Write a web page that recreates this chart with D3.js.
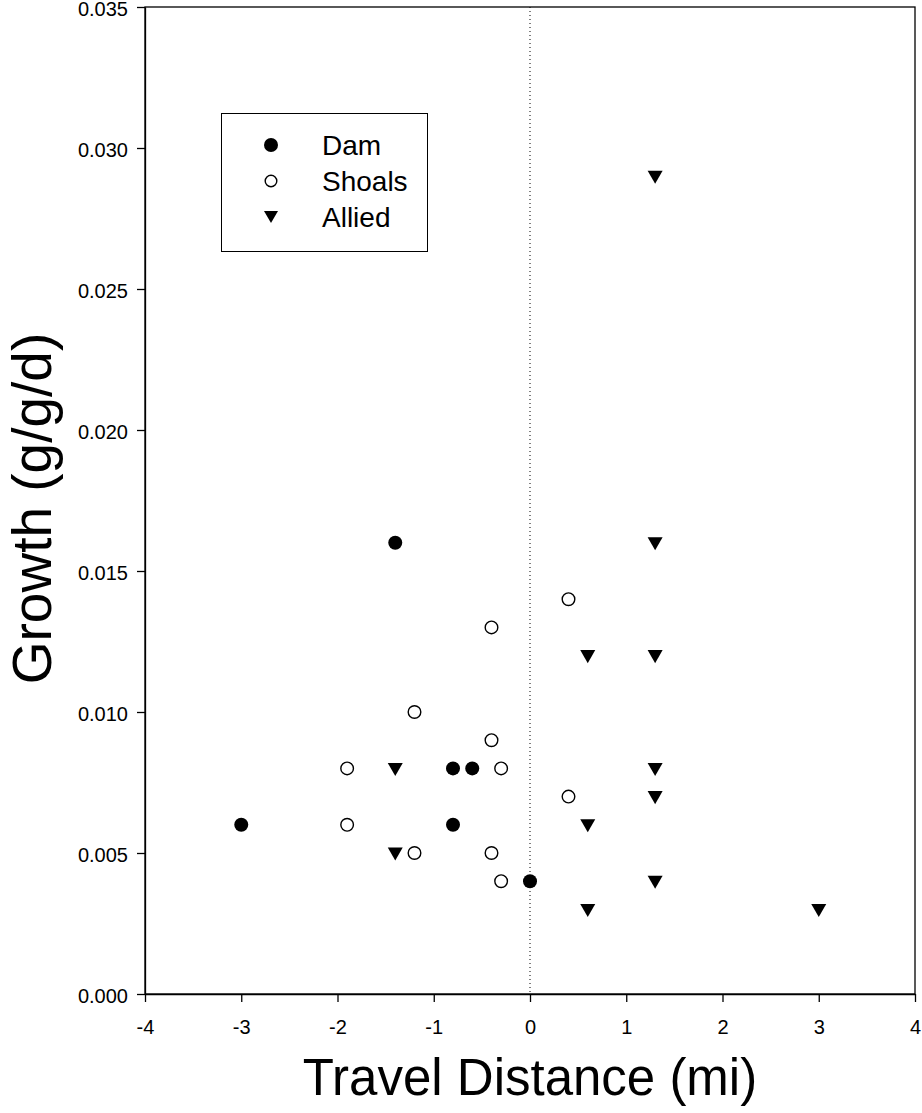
<!DOCTYPE html>
<html>
<head>
<meta charset="utf-8">
<script src="https://cdn.jsdelivr.net/npm/d3@7/dist/d3.min.js"></script>
<style>
  html, body { margin: 0; padding: 0; background: #fff; }
  svg { display: block; font-family: Arial, "Liberation Sans", sans-serif; }
</style>
</head>
<body>
<svg id="chart" width="922" height="1113"></svg>
<script>
// ---- data ----
const damX = [-3, -1.4, -0.8, -0.6, -0.8, 0];
const damY = [0.006, 0.016, 0.008, 0.008, 0.006, 0.004];

const shoalsX = [-1.9, -1.9, -1.2, -1.2, -0.4, -0.4, -0.3, -0.4, -0.3, 0.4, 0.4];
const shoalsY = [0.008, 0.006, 0.010, 0.005, 0.013, 0.009, 0.008, 0.005, 0.004, 0.014, 0.007];

const alliedX = [-1.4, -1.4, 0.6, 0.6, 0.6, 1.3, 1.3, 1.3, 1.3, 1.3, 1.3, 3];
const alliedY = [0.008, 0.005, 0.012, 0.006, 0.003, 0.029, 0.016, 0.012, 0.008, 0.007, 0.004, 0.003];

const xTicks = [-4, -3, -2, -1, 0, 1, 2, 3, 4];
const yTicks = [0.000, 0.005, 0.010, 0.015, 0.020, 0.025, 0.030, 0.035];
const seriesNames = ["Dam", "Shoals", "Allied"];

(function () {
// ---- layout ----
const svg = d3.select("#chart");
const pL = 145, pT = 7, pR = 915, pB = 994;

const x = d3.scaleLinear().domain([-4, 4]).range([pL, pR]);
const y = d3.scaleLinear().domain([0, 0.035]).range([pB, pT]);
const FONT = "Arial, 'Liberation Sans', sans-serif";

// x = 0 reference line (dotted)
svg.append("line")
  .attr("x1", x(0)).attr("x2", x(0))
  .attr("y1", pT).attr("y2", pB)
  .attr("stroke", "#000").attr("stroke-width", 1)
  .attr("stroke-dasharray", "1,3");

// frame
svg.append("rect")
  .attr("x", pL).attr("y", pT)
  .attr("width", pR - pL).attr("height", pB - pT)
  .attr("fill", "none").attr("stroke", "#000").attr("stroke-width", 1.3);

// axes
const xAxis = d3.axisBottom(x).tickValues(xTicks).tickSize(8).tickSizeOuter(0)
  .tickFormat(d => String(d).replace("\u2212", "-"));
const gx = svg.append("g").attr("transform", `translate(0,${pB})`).call(xAxis);
gx.select(".domain").attr("stroke-width", 1.3);
gx.selectAll(".tick line").attr("stroke-width", 1.3);
gx.selectAll("text").attr("font-size", 20).attr("font-family", FONT).attr("fill", "#000")
  .attr("dy", 0).attr("y", 40);

const yAxis = d3.axisLeft(y).tickValues(yTicks).tickSize(8).tickSizeOuter(0).tickPadding(9)
  .tickFormat(d => d.toFixed(3));
const gy = svg.append("g").attr("transform", `translate(${pL},0)`).call(yAxis);
gy.select(".domain").attr("stroke-width", 1.3);
gy.selectAll(".tick line").attr("stroke-width", 1.3);
gy.selectAll("text").attr("font-size", 20).attr("font-family", FONT).attr("fill", "#000")
  .attr("dy", "0.42em");

// axis titles
svg.append("text")
  .attr("x", (pL + pR) / 2).attr("y", 1095)
  .attr("text-anchor", "middle").attr("font-family", FONT)
  .attr("font-size", 51).text("Travel Distance (mi)");

svg.append("text")
  .attr("transform", `translate(51,${(pT + pB) / 2 + 8}) rotate(-90)`)
  .attr("text-anchor", "middle").attr("font-family", FONT)
  .attr("font-size", 55).text("Growth (g/g/d)");

// symbols
const circleR = 7;
const tri = (cx, cy, s) => {
  const w = s, h = s * 0.87;
  return `M${cx - w / 2},${cy - h / 2}L${cx + w / 2},${cy - h / 2}L${cx},${cy + h / 2}Z`;
};

const pts = d3.zip;
svg.append("g").selectAll("circle").data(pts(damX, damY)).join("circle")
  .attr("cx", d => x(d[0])).attr("cy", d => y(d[1])).attr("r", circleR)
  .attr("fill", "#000");

svg.append("g").selectAll("circle").data(pts(shoalsX, shoalsY)).join("circle")
  .attr("cx", d => x(d[0])).attr("cy", d => y(d[1])).attr("r", circleR - 0.7)
  .attr("fill", "#fff").attr("stroke", "#000").attr("stroke-width", 1.4);

svg.append("g").selectAll("path").data(pts(alliedX, alliedY)).join("path")
  .attr("d", d => tri(x(d[0]), y(d[1]) + 1, 15))
  .attr("fill", "#000");

// legend
const lg = svg.append("g");
lg.append("rect").attr("x", 221.5).attr("y", 113.5).attr("width", 206).attr("height", 138)
  .attr("fill", "#fff").attr("stroke", "#000").attr("stroke-width", 1);
const rowsY = [145, 181, 217];
const symX = 271, txtX = 322;
lg.append("circle").attr("cx", symX).attr("cy", rowsY[0]).attr("r", circleR).attr("fill", "#000");
lg.append("circle").attr("cx", symX).attr("cy", rowsY[1]).attr("r", circleR - 1.2)
  .attr("fill", "#fff").attr("stroke", "#000").attr("stroke-width", 1.4);
lg.append("path").attr("d", tri(symX, rowsY[2], 14)).attr("fill", "#000");
lg.selectAll("text.leg").data(seriesNames).join("text").attr("class", "leg")
  .attr("x", txtX).attr("y", (d, i) => rowsY[i]).attr("dy", "0.36em")
  .attr("font-family", FONT).attr("font-size", 28).text(d => d);
})();
</script>
</body>
</html>
